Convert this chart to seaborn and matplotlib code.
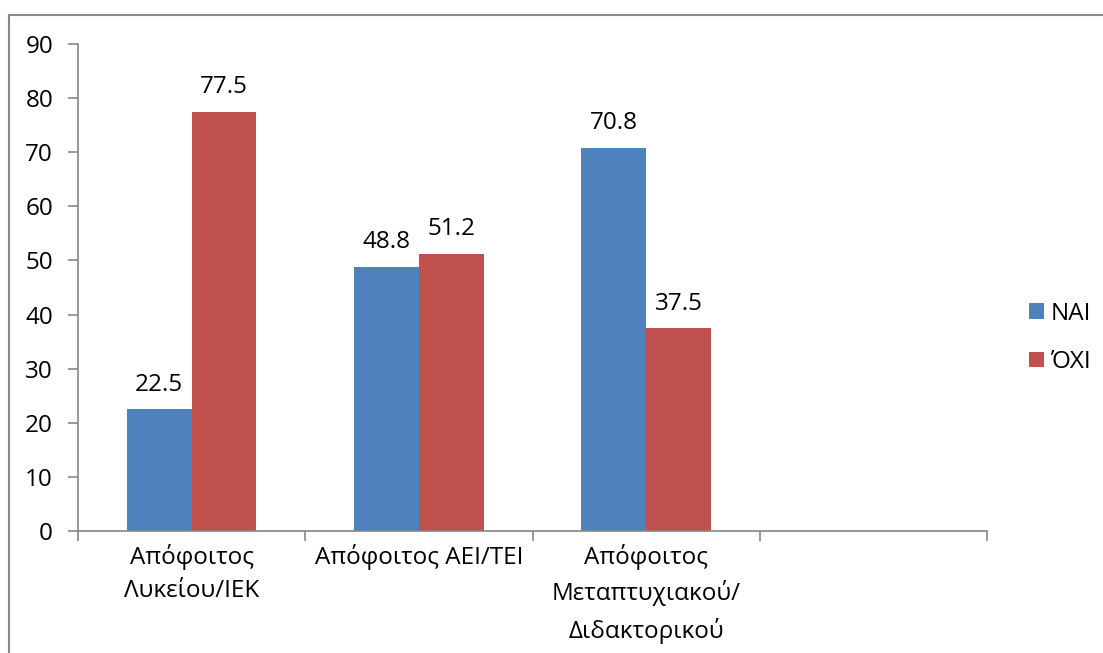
import matplotlib
matplotlib.use("Agg")
import matplotlib.pyplot as plt
from matplotlib.patches import Rectangle
from matplotlib.ticker import FixedLocator, NullFormatter
import seaborn as sns
import pandas as pd

# Survey answers (%) by education level
categories = ["Απόφοιτος\nΛυκείου/ΙΕΚ", "Απόφοιτος ΑΕΙ/ΤΕΙ",
              "Απόφοιτος\nΜεταπτυχιακού/\nΔιδακτορικού"]
slots = categories + [""]          # an empty fourth slot on the axis
series = ["ΝΑΙ", "ΌΧΙ"]
nai = [22.5, 48.8, 70.8]
oxi = [77.5, 51.2, 37.5]
yticks = list(range(0, 91, 10))

df = pd.DataFrame({
    "cat": categories * 2,
    "ans": [series[0]] * 3 + [series[1]] * 3,
    "val": nai + oxi,
})

sns.set_theme(style="white")
plt.rcParams["font.family"] = ["Open Sans", "DejaVu Sans"]
plt.rcParams["text.color"] = "black"
plt.rcParams["xtick.labelcolor"] = "black"
plt.rcParams["ytick.labelcolor"] = "black"
FS = 17.5

fig = plt.figure(figsize=(11.03, 6.53), dpi=100)
ax = fig.add_axes([78 / 1103, 1 - 531 / 653, (987 - 78) / 1103, (531 - 44) / 653])

sns.barplot(data=df, x="cat", y="val", hue="ans", order=slots,
            hue_order=series, palette=["#4F81BD", "#C0504D"],
            width=0.57, saturation=1, linewidth=0, ax=ax, legend=True)

ax.set_xlim(-0.5, len(slots) - 0.5)
ax.set_ylim(0, 90)
ax.set_yticks(yticks)
ax.set_xlabel("")
ax.set_ylabel("")

# value labels above each bar
for cont in ax.containers:
    ax.bar_label(cont, fmt="%.1f", padding=9, fontsize=FS, color="black")

# category boundaries carry the ticks, labels sit centred between them
ax.xaxis.set_major_locator(FixedLocator([i - 0.5 for i in range(len(slots) + 1)]))
ax.xaxis.set_major_formatter(NullFormatter())
ax.xaxis.set_minor_locator(FixedLocator(list(range(len(slots)))))
ax.set_xticklabels(slots, minor=True, fontsize=FS, linespacing=1.55)
ax.tick_params(axis="x", which="major", length=7, width=1.2, color="#868686",
               direction="out", bottom=True)
ax.tick_params(axis="x", which="minor", length=0, pad=9, bottom=True)
ax.tick_params(axis="y", length=7, width=1.2, color="#868686", direction="out",
               left=True, pad=11, labelsize=FS)

for side in ["top", "right"]:
    ax.spines[side].set_visible(False)
for side in ["left", "bottom"]:
    ax.spines[side].set_color("#868686")
    ax.spines[side].set_linewidth(1.2)

handles, labels = ax.get_legend_handles_labels()
ax.get_legend().remove()
fig.legend(handles, labels, loc="center left",
           bbox_to_anchor=(1029 / 1103, 1 - 338 / 653), frameon=False,
           fontsize=FS, handlelength=0.62, handleheight=0.62,
           handletextpad=0.25, labelspacing=1.0, borderpad=0,
           borderaxespad=0)

# outer chart frame
fig.patches.append(Rectangle((9 / 1103, -0.05), 1.2, 1 - 15 / 653 + 0.05,
                             transform=fig.transFigure, fill=False,
                             edgecolor="#888888", linewidth=1.5))

fig.savefig("out.png", dpi=100)
